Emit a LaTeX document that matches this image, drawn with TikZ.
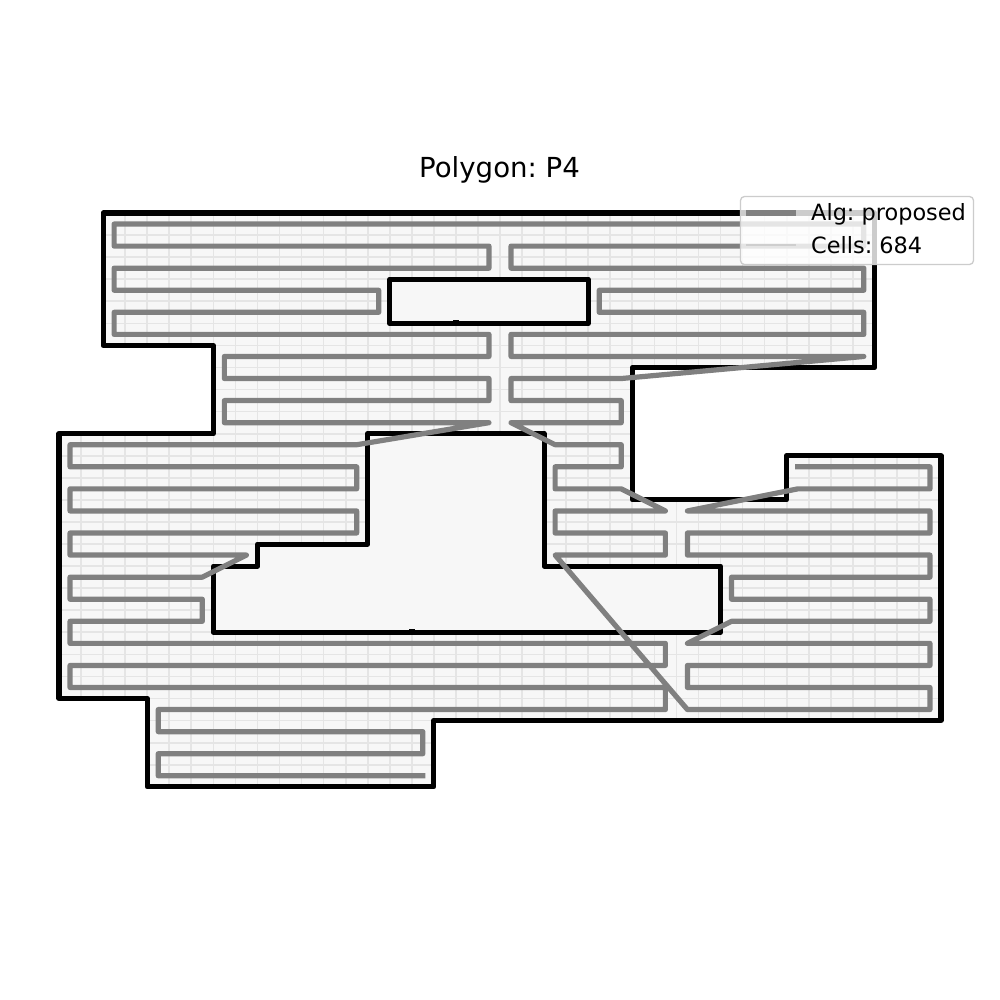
\documentclass[tikz,border=0pt]{standalone}
\usepackage{fontspec}
\setmainfont{DejaVu Sans}
\frenchspacing
\definecolor{gridc}{HTML}{E5E5E5}
\definecolor{fillc}{HTML}{F7F7F7}
\definecolor{pathc}{HTML}{808080}
\definecolor{legc}{HTML}{CCCCCC}
\tikzset{
  poly/.style={draw=black,line width=5.1pt,line join=round},
  gridln/.style={draw=gridc,line width=1.7pt},
  route/.style={draw=pathc,line width=5.2pt,line join=round,line cap=rect},
  tickmark/.style={fill=black,inner sep=0pt,minimum width=5.5pt,minimum height=6pt,draw=none},
  titletxt/.style={font=\fontsize{27.6}{32}\selectfont,text=black,inner sep=0pt,anchor=base},
  legtxt/.style={font=\fontsize{22.4}{26}\selectfont,text=black,inner sep=0pt,anchor=base west},
}
\begin{document}
\begin{tikzpicture}
\useasboundingbox (0pt,0pt) rectangle (1000pt,-1000pt);
\fill[white] (0pt,0pt) rectangle (1000pt,-1000pt);
\begin{scope}[x=22.05pt,y=-22.07pt,shift={(59pt,-213pt)}]
  \def\outerpoly{(2,0) -- (37,0) -- (37,7) -- (26,7) -- (26,13) -- (33,13) -- (33,11) -- (40,11) -- (40,23) -- (17,23) -- (17,26) -- (4,26) -- (4,22) -- (0,22) -- (0,10) -- (7,10) -- (7,6) -- (2,6) -- cycle}
  \def\holeA{(15,3) -- (24,3) -- (24,5) -- (15,5) -- cycle}
  \def\holeB{(14,10) -- (22,10) -- (22,16) -- (30,16) -- (30,19) -- (7,19) -- (7,16) -- (9,16) -- (9,15) -- (14,15) -- cycle}
  \fill[fillc] \outerpoly;
  \begin{scope}
    \clip \outerpoly;
    \foreach \i in {0,...,40} \draw[gridln] (\i,0) -- (\i,26);
    \foreach \j in {0,...,26} \draw[gridln] (0,\j) -- (40,\j);
  \end{scope}
  \fill[fillc] \holeA;
  \fill[fillc] \holeB;
  \draw[poly] \outerpoly;
  \draw[poly] \holeA;
  \draw[poly] \holeB;
  \node[tickmark] (m1) at (5,0) {};
  \node[tickmark] (m2) at (18,5) {};
  \node[tickmark] (m3) at (16,19) {};
  \draw[route]
    (16.5,25.5) -- (4.5,25.5) -- (4.5,24.5) -- (16.5,24.5) -- (16.5,23.5) -- (4.5,23.5) -- (4.5,22.5)
    -- (27.5,22.5) -- (27.5,21.5) -- (0.5,21.5) -- (0.5,20.5) -- (27.5,20.5) -- (27.5,19.5) -- (0.5,19.5)
    -- (0.5,18.5) -- (6.5,18.5) -- (6.5,17.5) -- (0.5,17.5) -- (0.5,16.5) -- (6.5,16.5) -- (8.5,15.5)
    -- (0.5,15.5) -- (0.5,14.5) -- (13.5,14.5) -- (13.5,13.5) -- (0.5,13.5) -- (0.5,12.5) -- (13.5,12.5)
    -- (13.5,11.5) -- (0.5,11.5) -- (0.5,10.5) -- (13.5,10.5) -- (19.5,9.5) -- (7.5,9.5) -- (7.5,8.5)
    -- (19.5,8.5) -- (19.5,7.5) -- (7.5,7.5) -- (7.5,6.5) -- (19.5,6.5) -- (19.5,5.5) -- (2.5,5.5)
    -- (2.5,4.5) -- (14.5,4.5) -- (14.5,3.5) -- (2.5,3.5) -- (2.5,2.5) -- (19.5,2.5) -- (19.5,1.5)
    -- (2.5,1.5) -- (2.5,0.5) -- (36.5,0.5) -- (36.5,1.5) -- (20.5,1.5) -- (20.5,2.5) -- (36.5,2.5)
    -- (36.5,3.5) -- (24.5,3.5) -- (24.5,4.5) -- (36.5,4.5) -- (36.5,5.5) -- (20.5,5.5) -- (20.5,6.5)
    -- (36.5,6.5) -- (25.5,7.5) -- (20.5,7.5) -- (20.5,8.5) -- (25.5,8.5) -- (25.5,9.5) -- (20.5,9.5)
    -- (22.5,10.5) -- (25.5,10.5) -- (25.5,11.5) -- (22.5,11.5) -- (22.5,12.5) -- (25.5,12.5) -- (27.5,13.5)
    -- (22.5,13.5) -- (22.5,14.5) -- (27.5,14.5) -- (27.5,15.5) -- (22.5,15.5) -- (28.5,22.5) -- (39.5,22.5)
    -- (39.5,21.5) -- (28.5,21.5) -- (28.5,20.5) -- (39.5,20.5) -- (39.5,19.5) -- (28.5,19.5) -- (30.5,18.5)
    -- (39.5,18.5) -- (39.5,17.5) -- (30.5,17.5) -- (30.5,16.5) -- (39.5,16.5) -- (39.5,15.5) -- (28.5,15.5)
    -- (28.5,14.5) -- (39.5,14.5) -- (39.5,13.5) -- (28.5,13.5) -- (33.5,12.5) -- (39.5,12.5) -- (39.5,11.5)
    -- (33.5,11.5);
\end{scope}
\node[titletxt] (title) at (499.5pt,-177.5pt) {Polygon: P4};
\draw[draw=legc,fill=white,fill opacity=0.8,line width=1.3pt,rounded corners=4pt] (740.5pt,-196.5pt) rectangle (973.5pt,-264.5pt);
\coordinate (la) at (746pt,-213pt);
\coordinate (lb) at (796pt,-213pt);
\coordinate (lc) at (746pt,-245pt);
\coordinate (ld) at (796pt,-245pt);
\draw[route,line cap=butt] (la) -- (lb);
\draw[draw=gridc!90!black,line width=1.7pt] (lc) -- (ld);
\node[legtxt] (l1) at (811pt,-221pt) {Alg: proposed};
\node[legtxt] (l2) at (811pt,-253pt) {Cells: 684};
\end{tikzpicture}
\end{document}
